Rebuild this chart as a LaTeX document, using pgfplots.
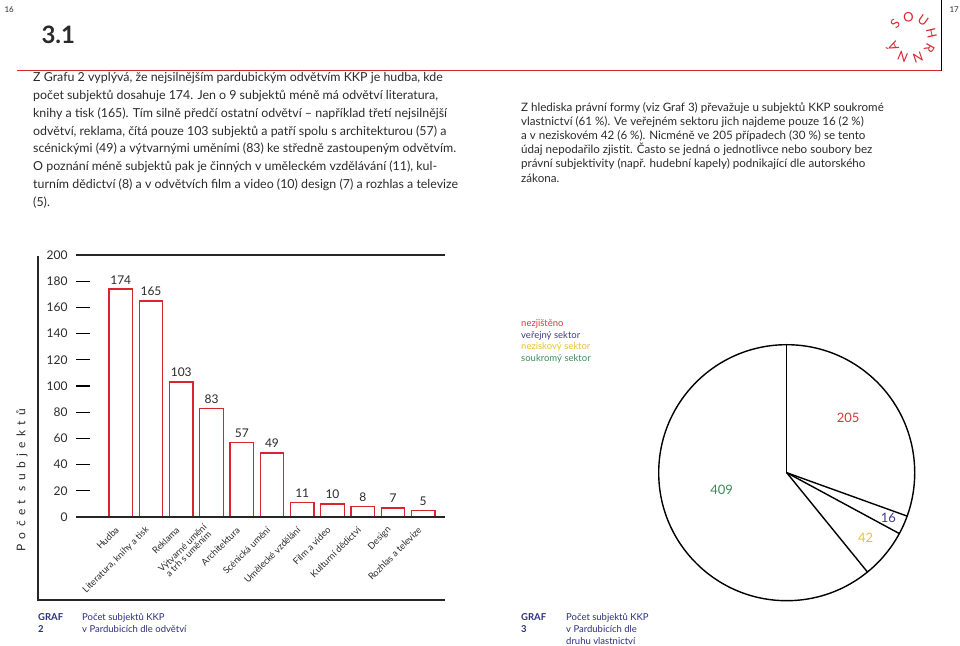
\documentclass[border=0pt]{standalone}
\usepackage{pgfplots}
\pgfplotsset{compat=1.18}
\usepackage{pgfplotstable}
\usetikzlibrary{calc}
\usepackage{fontspec}
\setmainfont{Lato}
\definecolor{barred}{HTML}{D72630}
\definecolor{navy}{HTML}{2B2F7E}
\definecolor{pred}{HTML}{D9363E}
\definecolor{pblue}{HTML}{3C3C8C}
\definecolor{pyellow}{HTML}{E6C232}
\definecolor{pgreen}{HTML}{3C8C5A}
\definecolor{txt}{HTML}{2A2A2A}

\pgfplotstableread{
x y
0 174
1 165
2 103
3 83
4 57
5 49
6 11
7 10
8 8
9 7
10 5
}\bardata

% pie values
\def\vA{205}\def\vB{16}\def\vC{42}\def\vD{409}

\begin{document}
\begin{tikzpicture}[x=1pt,y=1pt]
\path[use as bounding box] (0,0) rectangle (960,645);

% header
\node[anchor=west,font=\fontsize{8}{9}\selectfont,text=txt] at (1,635) {16};
\node[anchor=west,font=\fontsize{8}{9}\selectfont,text=txt] at (946,635) {17};
\node[anchor=west,font=\fontsize{24}{26}\selectfont\bfseries,text=txt] at (38,610) {3.1};
\draw[barred,line width=1.5pt] (17,574.5) -- (941,574.5);
\draw[black,line width=1pt] (941,645) -- (941,574);
\foreach \ch [count=\i from 0] in {S,O,U,H,R,N,N,Á}{
  \pgfmathsetmacro\ang{139-42*\i}
  \node[text=barred,font=\fontsize{13}{14}\selectfont,rotate=\ang-90,inner sep=0pt]
    at ($(911,607)+(\ang:21)$) {\ch};
}

% text blocks
\node[anchor=north west,align=left,inner sep=0pt,text=txt,font=\fontsize{12.4}{17.9}\selectfont] at (33,573) {%
Z Grafu 2 vyplývá, že nejsilnějším pardubickým odvětvím KKP je hudba, kde\\
počet subjektů dosahuje 174. Jen o 9 subjektů méně má odvětví literatura,\\
knihy a tisk (165). Tím silně předčí ostatní odvětví – například třetí nejsilnější\\
odvětví, reklama, čítá pouze 103 subjektů a patří spolu s architekturou (57) a\\
scénickými (49) a výtvarnými uměními (83) ke středně zastoupeným odvětvím.\\
O poznání méně subjektů pak je činných v uměleckém vzdělávání (11), kul-\\
turním dědictví (8) a v odvětvích film a video (10) design (7) a rozhlas a televize\\
(5).};
\node[anchor=north west,align=left,inner sep=0pt,text=txt,font=\fontsize{11.6}{14.2}\selectfont] at (521,543) {%
Z hlediska právní formy (viz Graf 3) převažuje u subjektů KKP soukromé\\
vlastnictví (61~\%). Ve veřejném sektoru jich najdeme pouze 16 (2~\%)\\
a v neziskovém 42 (6~\%). Nicméně ve 205 případech (30~\%) se tento\\
údaj nepodařilo zjistit. Často se jedná o jednotlivce nebo soubory bez\\
právní subjektivity (např. hudební kapely) podnikající dle autorského\\
zákona.};

% bar chart frame
\draw[line width=1.2pt,black!85] (38,389) -- (38,45) -- (445,45);
\node[rotate=90,text=txt,font=\fontsize{12}{14}\selectfont\addfontfeature{LetterSpace=45}] at (22,165) {Počet subjektů};

\begin{axis}[
  at={(76pt,128pt)}, anchor=south west,
  scale only axis, width=369pt, height=262pt,
  xmin=-1.48, xmax=10.72, ymin=0, ymax=200,
  axis line style={draw=none},
  /pgf/number format/assume math mode=true,
  ytick={0,20,...,200},
  ytick pos=left, tick align=inside, major tick length=14pt,
  ytick style={line width=1.3pt,black},
  yticklabel style={font=\fontsize{12}{14}\selectfont,text=txt,xshift=-5pt},
  xtick={0,...,10},
  xtick style={draw=none},
  xticklabels={Hudba,{Literatura, knihy a tisk},Reklama,{Výtvarné umění\\a trh s uměním},Architektura,Scénická umění,Umělecké vzdělání,Film a video,Kulturní dědictví,Design,Rozhlas a televize},
  xticklabel style={font=\fontsize{9.2}{8.5}\selectfont,text=txt,align=center,yshift=5pt,xshift=-1pt,rotate=45,anchor=east},
  ybar, bar width=23.5pt,
  nodes near coords,
  nodes near coords style={font=\fontsize{12}{14}\selectfont,text=txt,yshift=1pt},
  clip=false,
]
\addplot[draw=barred,fill=white,line width=1.4pt] table[x=x,y=y] {\bardata};
\draw[line width=1.3pt,black!85] (axis cs:-1.48,0) -- (axis cs:10.72,0);
\draw[line width=1.3pt,black!85] (axis cs:-1.48,200) -- (axis cs:10.72,200);
\end{axis}

% pie chart
\pgfmathsetmacro\tot{\vA+\vB+\vC+\vD}
\pgfmathsetmacro\aA{90}
\pgfmathsetmacro\aB{90-\vA/\tot*360}
\pgfmathsetmacro\aC{\aB-\vB/\tot*360}
\pgfmathsetmacro\aD{\aC-\vC/\tot*360}
\pgfmathsetmacro\mB{(\aB+\aC)/2}
\pgfmathsetmacro\mC{(\aC+\aD)/2}
\begin{axis}[
  at={(786.7pt,172.3pt)}, anchor=center,
  scale only axis, width=256pt, height=256pt,
  xmin=-1, xmax=1, ymin=-1, ymax=1, hide axis, clip=false,
]
\draw[line width=1.4pt] (axis cs:0,0) circle[radius=128pt];
\draw[line width=1.4pt] (axis cs:0,0) -- (axis cs:{cos(\aA)},{sin(\aA)});
\draw[line width=1.4pt] (axis cs:0,0) -- (axis cs:{cos(\aB)},{sin(\aB)});
\draw[line width=1.4pt] (axis cs:0,0) -- (axis cs:{cos(\aC)},{sin(\aC)});
\draw[line width=1.4pt] (axis cs:0,0) -- (axis cs:{cos(\aD)},{sin(\aD)});
\node[text=pred,font=\fontsize{13}{14}\selectfont] at (axis cs:0.48,0.425) {\vA};
\node[text=pblue,font=\fontsize{13}{14}\selectfont] at (axis cs:{0.87*cos(\mB)},{0.87*sin(\mB)}) {\vB};
\node[text=pyellow,font=\fontsize{13}{14}\selectfont] at (axis cs:{0.8*cos(\mC)},{0.8*sin(\mC)}) {\vC};
\node[text=pgreen,font=\fontsize{13}{14}\selectfont] at (axis cs:-0.508,-0.135) {\vD};
\end{axis}

% pie legend
\node[anchor=west,inner sep=0pt,text=pred,font=\fontsize{9.5}{11}\selectfont] at (521,321) {nezjištěno};
\node[anchor=west,inner sep=0pt,text=pblue,font=\fontsize{9.5}{11}\selectfont] at (521,309.5) {veřejný sektor};
\node[anchor=west,inner sep=0pt,text=pyellow,font=\fontsize{9.5}{11}\selectfont] at (521,298) {neziskový sektor};
\node[anchor=west,inner sep=0pt,text=pgreen,font=\fontsize{9.5}{11}\selectfont] at (521,286.5) {soukromý sektor};

% captions
\node[anchor=north west,inner sep=0pt,align=left,text=navy,font=\fontsize{9.5}{12}\selectfont\bfseries] at (38,32) {GRAF\\2};
\node[anchor=north west,inner sep=0pt,align=left,text=navy,font=\fontsize{9.5}{12}\selectfont] at (82,32) {Počet subjektů KKP\\v Pardubicích dle odvětví};
\node[anchor=north west,inner sep=0pt,align=left,text=navy,font=\fontsize{9.5}{12}\selectfont\bfseries] at (521,32) {GRAF\\3};
\node[anchor=north west,inner sep=0pt,align=left,text=navy,font=\fontsize{9.5}{12}\selectfont] at (566,32) {Počet subjektů KKP\\v Pardubicích dle\\druhu vlastnictví};
\end{tikzpicture}
\end{document}
